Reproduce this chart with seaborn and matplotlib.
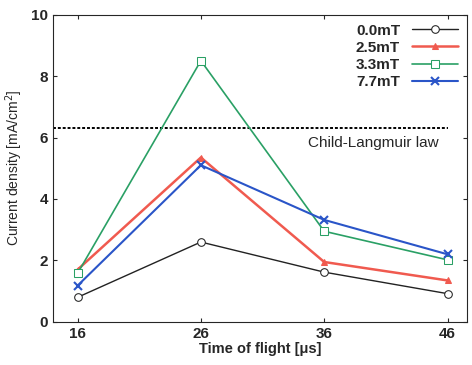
import numpy as np
import pandas as pd
import matplotlib
matplotlib.use("Agg")
import matplotlib.pyplot as plt
import seaborn as sns

tof = [16, 26, 36, 46]
j_00 = [0.8, 2.6, 1.62, 0.92]
j_25 = [1.7, 5.35, 1.95, 1.35]
j_33 = [1.58, 8.5, 2.95, 2.02]
j_77 = [1.18, 5.1, 3.32, 2.2]
labels = ["0.0mT", "2.5mT", "3.3mT", "7.7mT"]
child_langmuir = 6.3

sns.set_style("ticks")
plt.rcParams["font.family"] = ["Liberation Sans", "DejaVu Sans"]

df = pd.DataFrame({"tof": tof * 4,
                   "j": j_00 + j_25 + j_33 + j_77,
                   "field": np.repeat(labels, 4)})

colors = ["#222222", "#f05a4f", "#2aa065", "#2a55c8"]
fig, ax = plt.subplots(figsize=(4.72, 3.65), dpi=100)

ax.plot([14, 46], [child_langmuir, child_langmuir], ls=(0, (1.5, 1)), color="black", lw=1.4)
ax.text(34.7, 6.05, "Child-Langmuir law", fontsize=11, va="top")

styles = [dict(marker="o", mfc="white", ms=5.5, lw=1.0),
          dict(marker="^", mfc="#f05a4f", ms=5, lw=1.8),
          dict(marker="s", mfc="white", ms=6, lw=1.2),
          dict(marker="x", ms=6, mew=1.5, lw=1.5)]
for lab, c, st in zip(labels, colors, styles):
    sub = df[df.field == lab]
    sns.lineplot(data=sub, x="tof", y="j", ax=ax, color=c, label=lab, mec=c, **st)

ax.set_xlim(14, 47.6)
ax.set_ylim(0, 10)
ax.set_xticks(tof)
ax.set_yticks([0, 2, 4, 6, 8, 10])
ax.tick_params(direction="in", top=True, right=True, length=3, labelsize=11)
for t in ax.get_xticklabels() + ax.get_yticklabels():
    t.set_fontweight("bold")
ax.set_xlabel("Time of flight [μs]", fontsize=10.5, labelpad=1, fontweight="semibold")
ax.set_ylabel("Current density [mA/cm$^2$]", fontsize=10)
leg = ax.legend(loc="upper right", frameon=False, markerfirst=False, fontsize=11,
                handlelength=3, borderaxespad=0.2, labelspacing=0.2)
for t in leg.get_texts():
    t.set_fontweight("bold")

plt.subplots_adjust(left=0.112, right=0.99, top=0.96, bottom=0.118)
fig.savefig("out.png", dpi=100)
